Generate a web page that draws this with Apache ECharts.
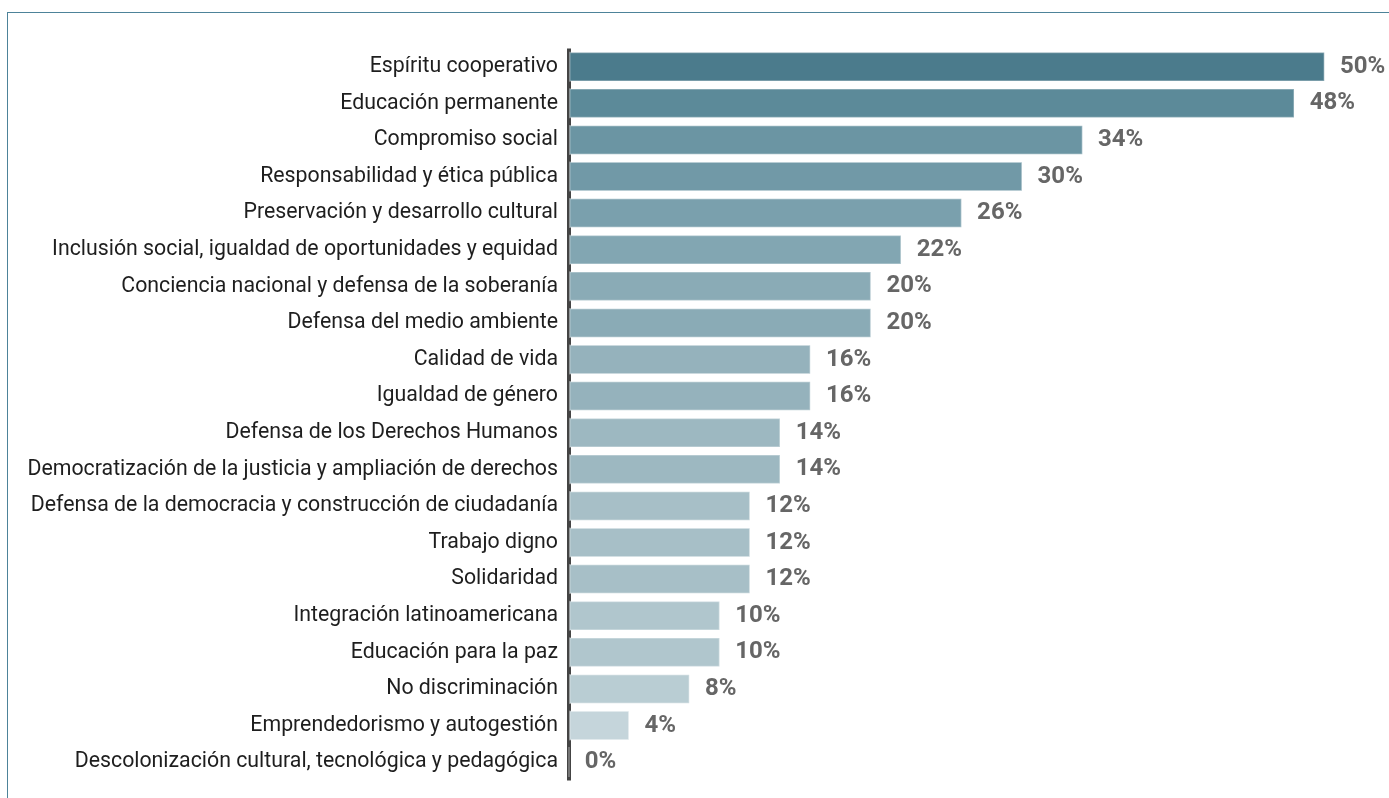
<!DOCTYPE html>
<html>
<head>
<meta charset="utf-8">
<script src="https://cdn.jsdelivr.net/npm/echarts@6/dist/echarts.min.js"></script>
<style>
html,body{margin:0;padding:0;background:#fff;overflow:hidden;}
#frame{position:absolute;left:7px;top:12px;width:1500px;height:900px;border-left:1px solid #4d8399;border-top:1px solid #4d8399;}
#chart{position:absolute;left:0;top:0;width:1389px;height:798px;}
</style>
</head>
<body>
<div id="frame"></div>
<div id="chart"></div>
<script>
const categories = [
  "Espíritu cooperativo",
  "Educación permanente",
  "Compromiso social",
  "Responsabilidad y ética pública",
  "Preservación y desarrollo cultural",
  "Inclusión social, igualdad de oportunidades y equidad",
  "Conciencia nacional y defensa de la soberanía",
  "Defensa del medio ambiente",
  "Calidad de vida",
  "Igualdad de género",
  "Defensa de los Derechos Humanos",
  "Democratización de la justicia y ampliación de derechos",
  "Defensa de la democracia y construcción de ciudadanía",
  "Trabajo digno",
  "Solidaridad",
  "Integración latinoamericana",
  "Educación para la paz",
  "No discriminación",
  "Emprendedorismo y autogestión",
  "Descolonización cultural, tecnológica y pedagógica"
];
const values = [50, 48, 34, 30, 26, 22, 20, 20, 16, 16, 14, 14, 12, 12, 12, 10, 10, 8, 4, 0];
const barColors = [
  "#4b7b8c", "#5c8a99", "#6b95a3", "#7199a7", "#7aa0ad", "#82a6b2",
  "#8aabb6", "#8aabb6", "#95b2bc", "#95b2bc", "#9db8c1", "#9db8c1",
  "#a7bfc7", "#a7bfc7", "#a7bfc7", "#b0c6cd", "#b0c6cd", "#b9cdd3",
  "#c5d5db", "#c5d5db"
];

const chart = echarts.init(document.getElementById('chart'), null, {renderer: 'canvas'});
chart.setOption({
  animation: false,
  grid: {left: 569, right: 64, top: 48.4, bottom: 17.6, containLabel: false},
  xAxis: {
    type: 'value', min: 0, max: 50, show: false
  },
  yAxis: {
    type: 'category', data: categories, inverse: true,
    axisLine: {show: true, lineStyle: {color: '#444', width: 4, cap: 'butt'}},
    axisTick: {show: false},
    axisLabel: {
      margin: 11, color: '#1e1e1e', fontFamily: 'Roboto', fontSize: 21.3
    }
  },
  series: [{
    type: 'bar',
    barWidth: 30,
    data: values.map((v, i) => ({
      value: v,
      itemStyle: {color: barColors[i]}
    })),
    itemStyle: {borderColor: 'rgba(255,255,255,0.35)', borderWidth: 1.5},
    label: {
      show: true, position: 'right', distance: 15,
      formatter: p => p.value + '%',
      color: '#666', fontFamily: 'Roboto', fontWeight: 'bold', fontSize: 24
    }
  }]
});
</script>
</body>
</html>
